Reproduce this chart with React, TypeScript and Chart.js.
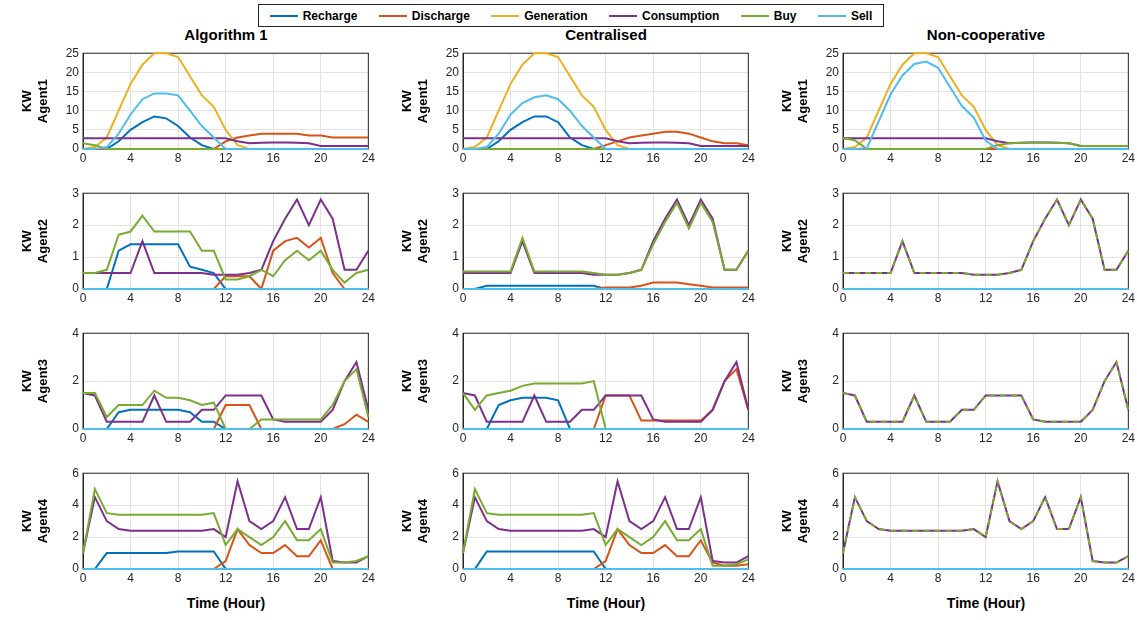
import { useEffect, useRef } from "react"
import { Chart, registerables } from "chart.js"

Chart.register(...registerables)

const hours = Array.from({ length: 25 }, (_, i) => i)
const seriesNames = ["Recharge", "Discharge", "Generation", "Consumption", "Buy", "Sell"]
const seriesColors = ["#0072BD", "#D95319", "#EDB120", "#7E2F8E", "#77AC30", "#4DBEEE"]
const columnTitles = ["Algorithm 1", "Centralised", "Non-cooperative"]
const yMax = [25, 3, 4, 6]
const yStep = [5, 1, 2, 2]

const zeros = hours.map(() => 0)

// shared per agent
const gen1 = [0, 0.5, 3, 10, 17, 22, 25, 25, 24, 19, 14, 11, 5, 1, 0, 0, 0, 0, 0, 0, 0, 0, 0, 0, 0]
const cons1 = [2.8, 2.8, 2.8, 2.8, 2.8, 2.8, 2.8, 2.8, 2.8, 2.8, 2.8, 2.8, 2.8, 2, 1.5, 1.6, 1.7, 1.7, 1.6, 1.5, 0.8, 0.8, 0.8, 0.8, 0.8]
const cons2 = [0.5, 0.5, 0.5, 0.5, 0.5, 1.5, 0.5, 0.5, 0.5, 0.5, 0.5, 0.45, 0.45, 0.45, 0.5, 0.6, 1.5, 2.2, 2.8, 2, 2.8, 2.2, 0.6, 0.6, 1.2]
const cons3 = [1.5, 1.4, 0.3, 0.3, 0.3, 0.3, 1.4, 0.3, 0.3, 0.3, 0.8, 0.8, 1.4, 1.4, 1.4, 1.4, 0.4, 0.3, 0.3, 0.3, 0.3, 0.8, 2, 2.8, 0.8]
const cons4 = [1, 4.5, 3, 2.5, 2.4, 2.4, 2.4, 2.4, 2.4, 2.4, 2.4, 2.5, 2, 5.5, 3, 2.5, 3, 4.5, 2.5, 2.5, 4.5, 0.5, 0.4, 0.4, 0.8]

// Algorithm 1
const a1Rech1 = [0, 0, 0, 2, 5, 7, 8.5, 8, 6, 3, 1, 0, 0, 0, 0, 0, 0, 0, 0, 0, 0, 0, 0, 0, 0]
const a1Dis1 = [0, 0, 0, 0, 0, 0, 0, 0, 0, 0, 0, 0, 2, 3, 3.5, 4, 4, 4, 4, 3.5, 3.5, 3, 3, 3, 3]
const a1Buy1 = [1.5, 1, 0, 0, 0, 0, 0, 0, 0, 0, 0, 0, 0, 0, 0, 0, 0, 0, 0, 0, 0, 0, 0, 0, 0]
const a1Sell1 = [0, 0, 0.5, 4, 9, 13, 14.5, 14.5, 14, 10, 6, 3, 0, 0, 0, 0, 0, 0, 0, 0, 0, 0, 0, 0, 0]
const a1Rech2 = [0, 0, 0, 1.2, 1.4, 1.4, 1.4, 1.4, 1.4, 0.7, 0.6, 0.5, 0, 0, 0, 0, 0, 0, 0, 0, 0, 0, 0, 0, 0]
const a1Dis2 = [0, 0, 0, 0, 0, 0, 0, 0, 0, 0, 0, 0, 0.4, 0.4, 0.4, 0, 1.2, 1.5, 1.6, 1.3, 1.6, 0.5, 0, 0, 0]
const a1Buy2 = [0.5, 0.5, 0.6, 1.7, 1.8, 2.3, 1.8, 1.8, 1.8, 1.8, 1.2, 1.2, 0.3, 0.3, 0.4, 0.6, 0.4, 0.9, 1.2, 0.9, 1.2, 0.6, 0.2, 0.5, 0.6]
const a1Rech3 = [0, 0, 0, 0.7, 0.8, 0.8, 0.8, 0.8, 0.8, 0.7, 0.3, 0.3, 0, 0, 0, 0, 0, 0, 0, 0, 0, 0, 0, 0, 0]
const a1Dis3 = [0, 0, 0, 0, 0, 0, 0, 0, 0, 0, 0, 0, 1, 1, 1, 0, 0, 0, 0, 0, 0, 0, 0.2, 0.6, 0.3]
const a1Buy3 = [1.5, 1.5, 0.5, 1, 1, 1, 1.6, 1.3, 1.3, 1.2, 1, 1.1, 0, 0, 0, 0.4, 0.4, 0.4, 0.4, 0.4, 0.4, 1, 2, 2.5, 0.5]
const a1Rech4 = [0, 0, 1, 1, 1, 1, 1, 1, 1.1, 1.1, 1.1, 1.1, 0, 0, 0, 0, 0, 0, 0, 0, 0, 0, 0, 0, 0]
const a1Dis4 = [0, 0, 0, 0, 0, 0, 0, 0, 0, 0, 0, 0, 0.5, 2.5, 1.5, 1, 1, 1.5, 0.8, 0.8, 1.8, 0, 0, 0, 0]
const a1Buy4 = [1, 5, 3.5, 3.4, 3.4, 3.4, 3.4, 3.4, 3.4, 3.4, 3.4, 3.5, 1.5, 2.5, 2, 1.5, 2, 3, 1.8, 1.8, 2.5, 0.4, 0.4, 0.5, 0.8]

// Centralised
const cRech1 = [0, 0, 0, 2, 5, 7, 8.5, 8.5, 7, 3, 1, 0, 0, 0, 0, 0, 0, 0, 0, 0, 0, 0, 0, 0, 0]
const cDis1 = [0, 0, 0, 0, 0, 0, 0, 0, 0, 0, 0, 0, 1, 2, 3, 3.5, 4, 4.5, 4.5, 4, 3, 2, 1.5, 1.5, 1]
const cSell1 = [0, 0, 0.5, 4, 9, 12, 13.5, 14, 13, 10, 6, 3, 0, 0, 0, 0, 0, 0, 0, 0, 0, 0, 0, 0, 0]
const cRech2 = [0, 0, 0.1, 0.1, 0.1, 0.1, 0.1, 0.1, 0.1, 0.1, 0.1, 0.1, 0, 0, 0, 0, 0, 0, 0, 0, 0, 0, 0, 0, 0]
const cDis2 = [0, 0, 0, 0, 0, 0, 0, 0, 0, 0, 0, 0, 0.05, 0.05, 0.05, 0.1, 0.2, 0.2, 0.2, 0.15, 0.1, 0.05, 0.05, 0.05, 0.05]
const cBuy2 = [0.55, 0.55, 0.55, 0.55, 0.55, 1.6, 0.55, 0.55, 0.55, 0.55, 0.55, 0.5, 0.45, 0.45, 0.5, 0.6, 1.4, 2.1, 2.7, 1.9, 2.7, 2.1, 0.6, 0.6, 1.2]
const cRech3 = [0, 0, 0, 1, 1.2, 1.3, 1.3, 1.3, 1.2, 0, 0, 0, 0, 0, 0, 0, 0, 0, 0, 0, 0, 0, 0, 0, 0]
const cDis3 = [0, 0, 0, 0, 0, 0, 0, 0, 0, 0, 0, 0, 1.4, 1.4, 1.4, 0.35, 0.35, 0.35, 0.35, 0.35, 0.35, 0.8, 2, 2.5, 0.8]
const cBuy3 = [1.5, 0.8, 1.4, 1.5, 1.6, 1.8, 1.9, 1.9, 1.9, 1.9, 1.9, 2, 0, 0, 0, 0, 0, 0, 0, 0, 0, 0, 0, 0, 0]
const cRech4 = [0, 0, 1.1, 1.1, 1.1, 1.1, 1.1, 1.1, 1.1, 1.1, 1.1, 1.1, 0, 0, 0, 0, 0, 0, 0, 0, 0, 0, 0, 0, 0]
const cDis4 = [0, 0, 0, 0, 0, 0, 0, 0, 0, 0, 0, 0, 0.5, 2.5, 1.5, 1, 1, 1.5, 0.8, 0.8, 1.8, 0.4, 0.2, 0.2, 0.3]
const cBuy4 = [1, 5, 3.5, 3.4, 3.4, 3.4, 3.4, 3.4, 3.4, 3.4, 3.4, 3.5, 1.5, 2.5, 2, 1.5, 2, 3, 1.8, 1.8, 2.5, 0.2, 0.2, 0.3, 0.6]

// Non-cooperative
const nBuy1 = [2.8, 2.3, 0, 0, 0, 0, 0, 0, 0, 0, 0, 0, 0, 1, 1.5, 1.6, 1.7, 1.7, 1.6, 1.5, 0.8, 0.8, 0.8, 0.8, 0.8]
const nSell1 = [0, 0, 0.2, 7.2, 14.2, 19.2, 22.2, 22.8, 21.2, 16.2, 11.2, 8.2, 2.2, 0, 0, 0, 0, 0, 0, 0, 0, 0, 0, 0, 0]

// [recharge, discharge, generation, consumption, buy, sell] per panel
const panels = [
  [
    [a1Rech1, a1Dis1, gen1, cons1, a1Buy1, a1Sell1],
    [cRech1, cDis1, gen1, cons1, zeros, cSell1],
    [zeros, zeros, gen1, cons1, nBuy1, nSell1],
  ],
  [
    [a1Rech2, a1Dis2, zeros, cons2, a1Buy2, zeros],
    [cRech2, cDis2, zeros, cons2, cBuy2, zeros],
    [zeros, zeros, zeros, cons2, cons2, zeros],
  ],
  [
    [a1Rech3, a1Dis3, zeros, cons3, a1Buy3, zeros],
    [cRech3, cDis3, zeros, cons3, cBuy3, zeros],
    [zeros, zeros, zeros, cons3, cons3, zeros],
  ],
  [
    [a1Rech4, a1Dis4, zeros, cons4, a1Buy4, zeros],
    [cRech4, cDis4, zeros, cons4, cBuy4, zeros],
    [zeros, zeros, zeros, cons4, cons4, zeros],
  ],
]

const FONT = "'Liberation Sans', Arial, sans-serif"

// box around the axes, drawn under the lines
const boxPlugin = {
  id: "box",
  beforeDatasetsDraw(chart: Chart) {
    const { ctx, chartArea: a } = chart
    ctx.save()
    ctx.strokeStyle = "#262626"
    ctx.lineWidth = 1
    ctx.strokeRect(a.left, a.top, a.right - a.left, a.bottom - a.top)
    ctx.restore()
  },
}

function Panel({ row, col }: { row: number; col: number }) {
  const ref = useRef<HTMLCanvasElement>(null)
  useEffect(() => {
    if (!ref.current) return
    const data = panels[row][col]
    const nonCoop = col === 2
    const chart = new Chart(ref.current, {
      type: "line",
      data: {
        datasets: data.map((vals, i) => ({
          label: seriesNames[i],
          data: hours.map((h, k) => ({ x: h, y: vals[k] })),
          borderColor: seriesColors[i],
          borderWidth: 2,
          pointRadius: 0,
          tension: 0,
          clip: 2,
          borderDash: nonCoop && row > 0 && i === 4 ? [6, 5] : [],
          order: 6 - i,
        })),
      },
      options: {
        animation: false,
        responsive: false,
        layout: { padding: { top: 5, right: 8, left: 0, bottom: 0 } },
        plugins: { legend: { display: false }, tooltip: { enabled: false } },
        scales: {
          x: {
            type: "linear",
            min: 0,
            max: 24,
            ticks: { stepSize: 4, color: "#262626", font: { family: FONT, size: 12 }, maxRotation: 0, padding: 2 },
            grid: { color: "#e3e3e3", tickLength: 0 },
            border: { color: "#262626" },
            afterFit: (s: any) => { s.height = 18 },
          },
          y: {
            min: 0,
            max: yMax[row],
            ticks: { stepSize: yStep[row], color: "#262626", font: { family: FONT, size: 12 }, padding: 4 },
            grid: { color: "#e3e3e3", tickLength: 0 },
            border: { color: "#262626" },
            title: {
              display: true,
              text: ["KW", "Agent" + (row + 1)],
              color: "#000",
              font: { family: FONT, size: 13, weight: "bold" },
              padding: 0,
            },
            afterFit: (s: any) => { s.width = 63 },
          },
        },
      },
      plugins: [boxPlugin],
    })
    return () => chart.destroy()
  }, [row, col])
  return (
    <canvas
      ref={ref}
      width={357}
      height={125}
      style={{ position: "absolute", left: 20 + col * 380, top: 42 + row * 140, width: 357, height: 125 }}
    />
  )
}

export default function App() {
  return (
    <div style={{ position: "absolute", left: 0, top: 0, width: 1137, height: 620, background: "#fff", fontFamily: FONT }}>
      {columnTitles.map((t, c) => (
        <div key={t} style={{ position: "absolute", left: 83 + c * 380, width: 286, top: 26, textAlign: "center", fontWeight: "bold", fontSize: 15 }}>
          {t}
        </div>
      ))}
      {columnTitles.map((t, c) => (
        <div key={"x" + t} style={{ position: "absolute", left: 83 + c * 380, width: 286, top: 595, textAlign: "center", fontWeight: "bold", fontSize: 14 }}>
          Time (Hour)
        </div>
      ))}
      <div style={{ position: "absolute", left: 258, top: 4, width: 624, height: 21, border: "1px solid #262626", background: "#fff", display: "flex", alignItems: "center", justifyContent: "space-around", fontSize: 12, fontWeight: "bold", zIndex: 2 }}>
        {seriesNames.map((n, i) => (
          <span key={n} style={{ display: "flex", alignItems: "center" }}>
            <span style={{ display: "inline-block", width: 28, height: 2, background: seriesColors[i], marginRight: 5 }} />
            {n}
          </span>
        ))}
      </div>
      {panels.map((r, ri) => r.map((_, ci) => <Panel key={ri + "-" + ci} row={ri} col={ci} />))}
    </div>
  )
}
